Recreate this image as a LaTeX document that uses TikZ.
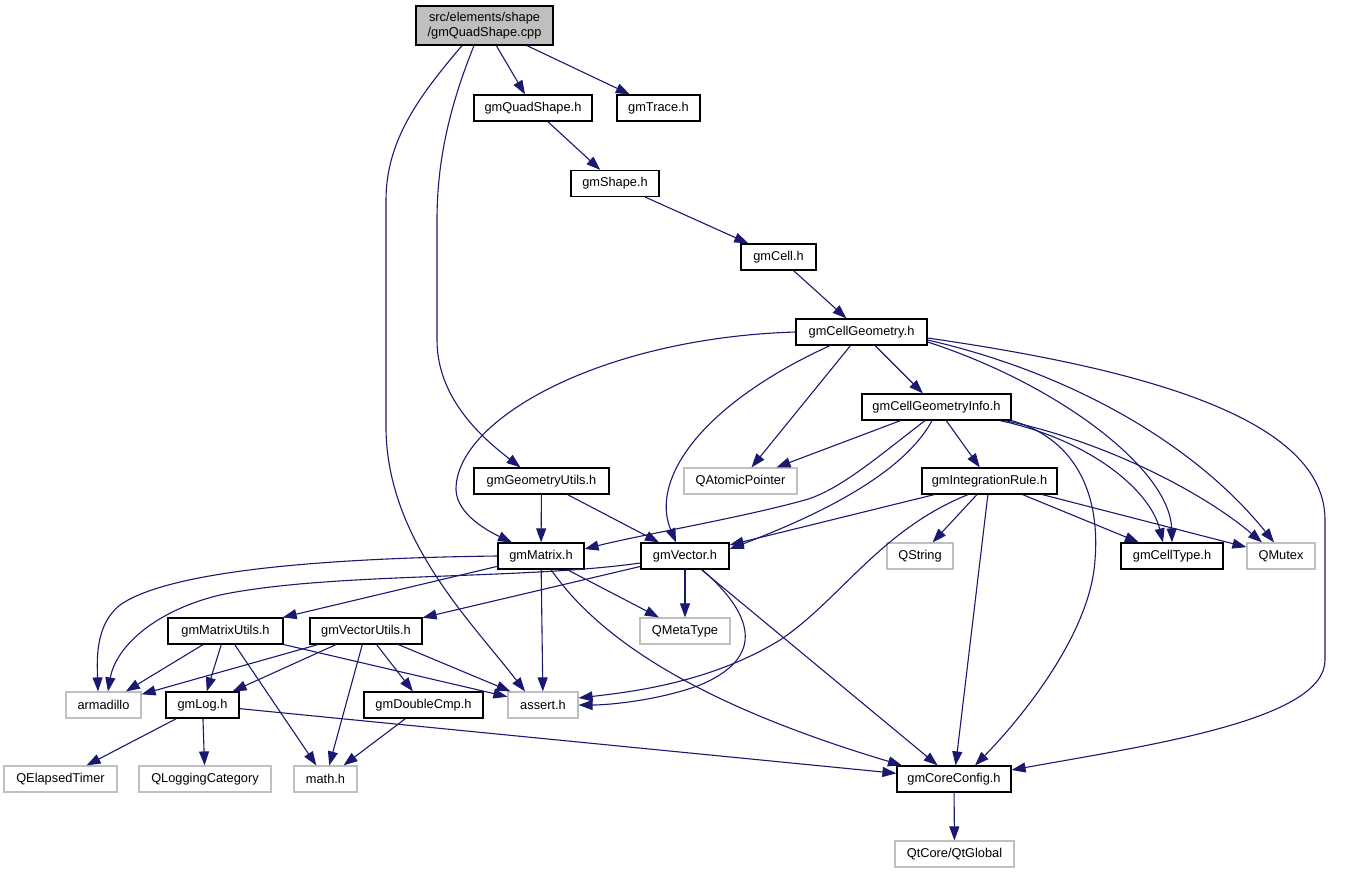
\documentclass[tikz,border=0pt]{standalone}
\usepackage{fontspec}
\setmainfont{Liberation Sans}
\usetikzlibrary{arrows.meta}
\definecolor{edgec}{HTML}{191970}
\definecolor{sysgray}{HTML}{BFBFBF}
\begin{document}
\begin{tikzpicture}[x=1pt,y=-1pt,
  box/.style={draw=black, line width=1.2pt, inner sep=0pt, minimum height=26pt, font=\fontsize{12.8}{15}\selectfont},
  sys/.style={box, draw=sysgray},
  e/.style={draw=edgec, line width=1.1pt, -{Triangle[length=14pt,width=10pt]}}]
\useasboundingbox (0,0) rectangle (1359,873);
\node[box, fill=sysgray, minimum width=137pt, minimum height=39pt, align=center] (root) at (484.5,25.5) {src/elements/shape\\/gmQuadShape.cpp};
\node[box, minimum width=118pt] (qs) at (533,108) {gmQuadShape.h};
\node[box, minimum width=83pt] (tr) at (658.5,108) {gmTrace.h};
\node[box, minimum width=88pt] (sh) at (615,183.5) {gmShape.h};
\node[box, minimum width=75pt] (cell) at (778.5,257) {gmCell.h};
\node[box, minimum width=131pt] (cg) at (861.5,332) {gmCellGeometry.h};
\node[box, minimum width=149pt] (cgi) at (936.5,407) {gmCellGeometryInfo.h};
\node[sys, minimum width=113pt] (qap) at (740.5,481) {QAtomicPointer};
\node[box, minimum width=135pt] (ir) at (989.5,481) {gmIntegrationRule.h};
\node[box, minimum width=135pt] (geo) at (541.5,481) {gmGeometryUtils.h};
\node[box, minimum width=86pt] (mat) at (541,556) {gmMatrix.h};
\node[box, minimum width=88pt] (vec) at (685,556) {gmVector.h};
\node[sys, minimum width=66pt] (qstr) at (920,556) {QString};
\node[box, minimum width=102pt] (ctype) at (1172,556) {gmCellType.h};
\node[sys, minimum width=68pt] (qm) at (1281,556) {QMutex};
\node[box, minimum width=115pt] (mu) at (225.5,631) {gmMatrixUtils.h};
\node[box, minimum width=112pt] (vu) at (366,631) {gmVectorUtils.h};
\node[sys, minimum width=90pt] (qmt) at (685,631) {QMetaType};
\node[sys, minimum width=75pt] (arm) at (103.5,705) {armadillo};
\node[box, minimum width=73pt] (log) at (202.5,705) {gmLog.h};
\node[box, minimum width=119pt] (dc) at (423.5,705) {gmDoubleCmp.h};
\node[sys, minimum width=70pt] (as) at (543,705) {assert.h};
\node[sys, minimum width=113pt] (qet) at (60.5,779) {QElapsedTimer};
\node[sys, minimum width=132pt] (qlc) at (205,779) {QLoggingCategory};
\node[sys, minimum width=63pt] (math) at (325.5,779) {math.h};
\node[box, minimum width=114pt] (core) at (954,779) {gmCoreConfig.h};
\node[sys, minimum width=119pt] (qtg) at (954.5,854) {QtCore/QtGlobal};
% straight edges
\foreach \a/\b in {root/qs, root/tr, qs/sh, sh/cell, cell/cg, cg/qap, cg/cgi, cgi/qap, cgi/ir,
  ir/vec, ir/qstr, ir/core, ir/ctype, ir/qm, geo/mat, geo/vec, mat/mu, mat/as, mat/qmt,
  vec/vu, vec/qmt, vec/core, mu/arm, mu/log, mu/math, mu/as, vu/arm, vu/log, vu/math, vu/dc, vu/as,
  log/qet, log/qlc, log/core, dc/math, core/qtg}
  \draw[e] (\a) -- (\b);
% curved edges
\draw[e] ([xshift=-22.5pt]root.south) .. controls (420,95) and (386,140) .. (386,200) -- (386,430) .. controls (388,540) and (470,620) .. ([xshift=-18pt]as.north);
\draw[e] ([xshift=-10.5pt]root.south) .. controls (450,105) and (437,160) .. (437,220) -- (437,340) .. controls (437,400) and (485,440) .. ([xshift=-21pt]geo.north);
\draw[e] (cg.west) .. controls (600,338) and (455,420) .. (456,490) .. controls (457,515) and (490,532) .. ([xshift=-29pt]mat.north);
\draw[e] ([xshift=-31.5pt]cg.south) .. controls (700,405) and (650,480) .. ([xshift=-9pt]vec.north);
\draw[e] ([yshift=-10pt]cg.east) .. controls (1060,385) and (1170,470) .. (ctype.north);
\draw[e] ([yshift=-8pt]cg.east) .. controls (1080,375) and (1200,450) .. ([xshift=-7pt]qm.north);
\draw[e] ([yshift=-6pt]cg.east) .. controls (1150,370) and (1325,420) .. (1325,520) -- (1325,660) .. controls (1325,720) and (1150,745) .. ([yshift=9pt]core.east);
\draw[e] ([xshift=-11.5pt]cgi.south) .. controls (880,455) and (840,490) .. (805,500) .. controls (740,518) and (640,535) .. ([yshift=7pt]mat.east);
\draw[e] ([xshift=-4.5pt]cgi.south) .. controls (900,480) and (800,522) .. ([yshift=7pt]vec.east);
\draw[e] ([xshift=63.5pt]cgi.south) .. controls (1090,440) and (1150,490) .. ([xshift=-9pt]ctype.north);
\draw[e] ([xshift=68.5pt]cgi.south) .. controls (1100,440) and (1200,490) .. ([xshift=-19pt]qm.north);
\draw[e] (cgi.south east) .. controls (1080,440) and (1100,500) .. (1095,560) .. controls (1090,640) and (1010,730) .. ([xshift=21pt]core.north);
\draw[e] ([xshift=-21.5pt]ir.south) .. controls (880,530) and (840,600) .. (780,640) .. controls (710,683) and (630,692) .. ([yshift=7pt]as.east);
\draw[e] (mat.west) .. controls (330,558) and (170,570) .. (120,605) .. controls (95,625) and (97,660) .. ([xshift=-5.5pt]arm.north);
\draw[e] ([xshift=10pt]mat.south) .. controls (600,640) and (700,705) .. ([xshift=-52pt]core.north);
\draw[e] ([yshift=-7pt]vec.west) .. controls (520,580) and (330,572) .. (220,595) .. controls (150,612) and (115,650) .. ([xshift=4.5pt]arm.north);
\draw[e] ([xshift=17pt]vec.south) .. controls (760,620) and (760,660) .. (700,685) .. controls (660,700) and (610,705) .. (as.east);
\end{tikzpicture}
\end{document}
